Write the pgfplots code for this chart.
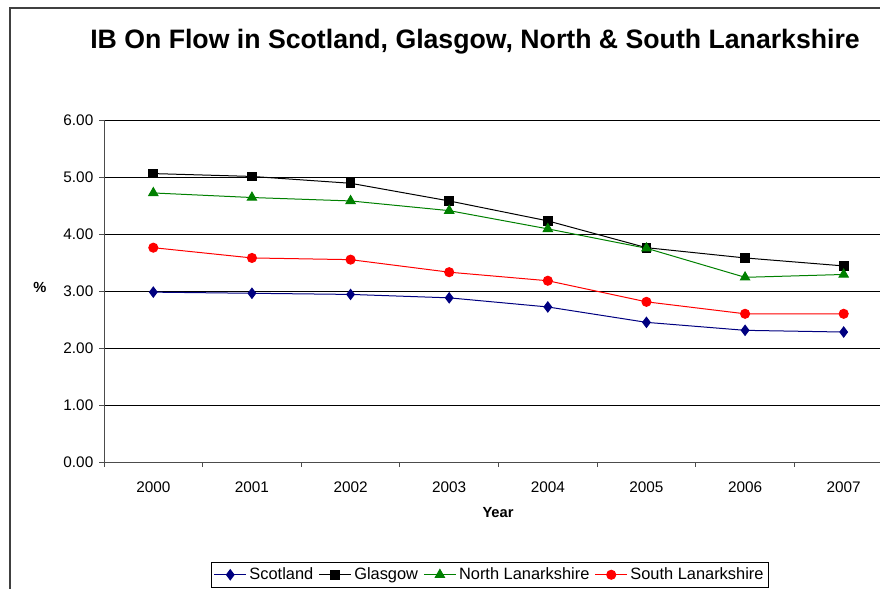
\documentclass[border=0pt]{standalone}
\usepackage{fontspec}
\setmainfont{Liberation Sans}
\usepackage{pgfplots}
\pgfplotsset{compat=1.18}
\definecolor{scot}{HTML}{000080}
\definecolor{nlan}{HTML}{008000}
\definecolor{slan}{HTML}{FF0000}

\pgfplotstableread{
yr  scot  glas  nlan  slan
0   2.98  5.06  4.72  3.76
1   2.96  5.01  4.64  3.58
2   2.94  4.89  4.58  3.55
3   2.88  4.58  4.41  3.33
4   2.72  4.23  4.09  3.18
5   2.45  3.76  3.75  2.81
6   2.31  3.58  3.24  2.60
7   2.28  3.44  3.29  2.60
}\ibdata

\begin{document}
\begin{tikzpicture}[x=0.75pt,y=0.75pt]
\path[use as bounding box] (0,0) rectangle (880,588);
\begin{scope}
\clip (0,0) rectangle (880,588);
% chart frame
\draw[line width=0.9pt, black!75] (10,-40) -- (10,580) -- (940,580);
\node[font=\bfseries\fontsize{20}{24}\selectfont] at (475,546)
  {IB On Flow in Scotland, Glasgow, North \& South Lanarkshire};
\node[font=\bfseries\fontsize{11}{13}\selectfont] at (40,301) {\%};
\node[font=\bfseries\fontsize{11}{13}\selectfont] at (498,75) {Year};
\begin{axis}[
  at={(78pt,94.5pt)}, anchor=south west,
  scale only axis, width=591.75pt, height=256.5pt,
  xmin=-0.5, xmax=7.5, ymin=0, ymax=6,
  xtick={0,...,7},
  xticklabels={2000,2001,2002,2003,2004,2005,2006,2007},
  major x tick style={draw=none},
  minor xtick={-0.5,0.5,...,7.5},
  minor tick length=3.5pt,
  ytick={0,1,...,6},
  major tick length=3.5pt,
  tick align=outside,
  tick style={black!70, line width=0.75pt},
  ymajorgrids,
  grid style={black, line width=0.75pt},
  axis line style={black!70, line width=0.75pt},
  axis x line*=bottom, axis y line*=left,
  /pgf/number format/fixed,
  /pgf/number format/fixed zerofill,
  /pgf/number format/precision=2,
  /pgf/number format/assume math mode=true,
  tick label style={font=\fontsize{11.5}{13}\selectfont},
  x tick label style={yshift=-8pt},
  y tick label style={xshift=-1pt},
  every axis plot/.append style={line width=0.75pt},
  legend columns=4,
  legend style={at={(0.4892,-0.2924)}, anchor=north, draw=black,
    line width=0.75pt, font=\fontsize{12.3}{14}\selectfont,
    inner sep=2pt, row sep=0pt,
    /tikz/every even column/.append style={column sep=2pt}},
  legend image code/.code={
    \draw[mark repeat=2, mark phase=2] plot coordinates {(0pt,0pt) (12pt,0pt) (24pt,0pt)};},
  clip=false,
]
\addplot[color=scot, mark=diamond*, mark size=3.8pt, mark options={fill=scot}] table[x=yr,y=scot] {\ibdata};
\addlegendentry{Scotland}
\addplot[color=black, mark=square*, mark size=3.3pt, mark options={fill=black}] table[x=yr,y=glas] {\ibdata};
\addlegendentry{Glasgow}
\addplot[color=nlan, mark=triangle*, mark size=4pt, mark options={fill=nlan}] table[x=yr,y=nlan] {\ibdata};
\addlegendentry{North Lanarkshire}
\addplot[color=slan, mark=*, mark size=3.4pt, mark options={fill=slan}] table[x=yr,y=slan] {\ibdata};
\addlegendentry{South Lanarkshire}
\end{axis}
\end{scope}
\end{tikzpicture}
\end{document}
